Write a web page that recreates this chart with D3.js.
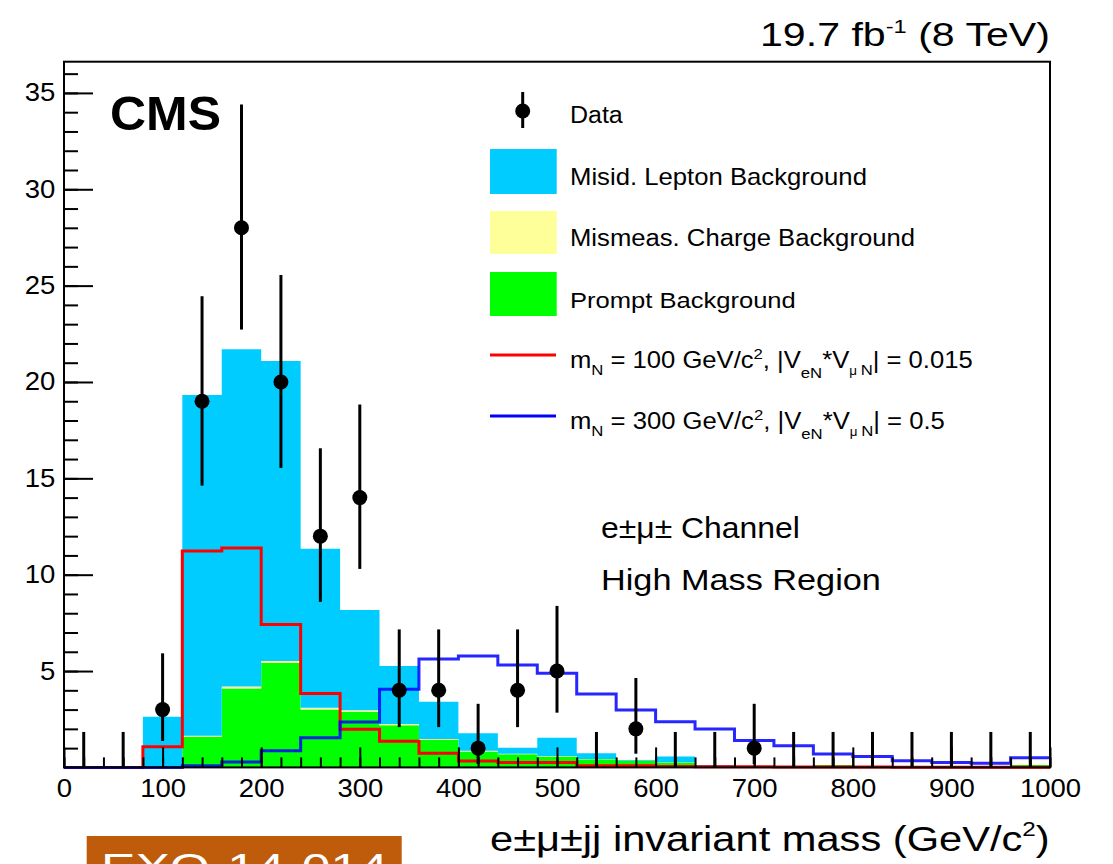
<!DOCTYPE html>
<html><head><meta charset="utf-8">
<script src="https://cdn.jsdelivr.net/npm/d3@7"></script>
<style>
body{margin:0;background:#fff}
svg{display:block}
text{font-family:"Liberation Sans",Arimo,Arial,Helvetica,sans-serif;fill:#000}
</style>
</head><body>
<svg id="c" width="1113" height="864"></svg>
<script>
// ---- data (bins of 40 GeV from 0 to 1000) ----
const binLow     = [0,40,80,120,160,200,240,280,320,360,400,440,480,520,560,600,640,680,720,760,800,840,880,920,960];
const binCenter  = [20,60,100,140,180,220,260,300,340,380,420,460,500,540,580,620,660,700,740,780,820,860,900,940,980];
const dataCounts = [0,0,3,19,28,20,12,14,4,4,1,4,5,0,2,0,0,1,0,0,0,0,0,0,0];
const dataErrLow = [0,0,1.37,14.62,22.72,15.54,8.59,10.30,2.09,2.09,0.17,2.09,2.84,0,0.71,0,0,0.17,0,0,0,0,0,0,0];
const dataErrHigh= [1.84,1.84,5.92,24.45,34.40,25.55,16.56,18.83,7.16,7.16,3.30,7.16,8.38,1.84,4.64,1.84,1.84,3.30,1.84,1.84,1.84,1.84,1.84,1.84,1.84];
const promptBkg  = [0,0,0,1.59,4.10,5.42,3.01,2.89,2.19,1.42,0.82,0.68,0.56,0.42,0.33,0.25,0.05,0.05,0.05,0.12,0.05,0.05,0.05,0.05,0.12];
const mismeasBkg = [0,0,0,0.05,0.10,0.10,0.08,0.08,0.06,0.05,0.04,0.03,0.03,0.02,0.02,0.02,0.02,0,0,0,0,0,0,0,0];
const misidBkg   = [0,0,2.63,17.69,17.50,15.57,8.26,5.20,3.01,1.94,0.91,0.31,0.95,0.29,0.03,0.29,0.05,0.02,0.02,0.01,0.01,0.01,0.01,0.01,0.01];
const signal100  = [0,0,1.07,11.23,11.39,7.42,3.84,1.98,1.36,0.73,0.33,0.26,0.26,0.09,0.08,0.05,0.03,0.03,0.02,0.02,0.02,0.01,0.01,0.01,0.01];
const signal300  = [0,0,0,0.08,0.28,0.87,1.54,2.36,4.05,5.63,5.78,5.31,4.88,3.81,2.98,2.37,1.99,1.40,1.12,0.70,0.57,0.35,0.25,0.21,0.50];
const xMax = 1000;
const xTicksMajor = [0,100,200,300,400,500,600,700,800,900,1000];
const yTicksMajor = [5,10,15,20,25,30,35];
const legendLabels = ["Data","Misid. Lepton Background","Mismeas. Charge Background","Prompt Background"];

const svg = d3.select("#c");
const L=64, R=1050, T=61.7, B=767.4;
const x = d3.scaleLinear().domain([0,xMax]).range([L,R]);
const y = d3.scaleLinear().domain([0,36.62]).range([B,T]);

function fitText(sel, x0, x1, base){
  const w = sel.node().getBBox().width;
  const sx = (x1-x0)/w;
  sel.attr("x",0).attr("y",0).attr("text-anchor","start")
     .attr("transform",`translate(${x0},${base}) scale(${sx},1)`);
}

// ---- stacked background ----
const rows = binLow.map((b,i)=>({lo:b, prompt:promptBkg[i], mismeas:mismeasBkg[i], misid:misidBkg[i]}));
const stack = d3.stack().keys(["prompt","mismeas","misid"])(rows);
const fills = {prompt:"#00ff00", mismeas:"#ffff99", misid:"#00ccff"};
const area = d3.area().curve(d3.curveStepAfter)
  .x(d=>x(d.x)).y0(d=>y(d.y0)).y1(d=>y(d.y1));
stack.forEach(layer=>{
  const pts = layer.map((d,i)=>({x:binLow[i], y0:d[0], y1:d[1]}));
  pts.push({x:xMax, y0:pts[pts.length-1].y0, y1:pts[pts.length-1].y1});
  svg.append("path").attr("d",area(pts)).attr("fill",fills[layer.key]).attr("stroke","none");
});

// ---- signal lines ----
const line = d3.line().curve(d3.curveStepAfter).x(d=>x(d.x)).y(d=>y(d.v));
function stepPts(arr){ const p = arr.map((v,i)=>({x:binLow[i], v})); p.push({x:xMax, v:arr[arr.length-1]}); return p; }
svg.append("path").attr("d",line(stepPts(signal100))).attr("fill","none").attr("stroke","#ff0000").attr("stroke-width",3);
svg.append("path").attr("d",line(stepPts(signal300))).attr("fill","none").attr("stroke","#0000ff").attr("stroke-width",3).attr("stroke-opacity",0.85);

// ---- axes ticks ----
const gx = svg.append("g").attr("transform",`translate(0,${B})`);
gx.call(d3.axisBottom(x).tickValues(d3.range(0,xMax+1,20)).tickSize(-10).tickFormat(""));
const gxM = svg.append("g").attr("transform",`translate(0,${B})`);
gxM.call(d3.axisBottom(x).tickValues(xTicksMajor).tickSize(-20).tickPadding(12).tickFormat(d3.format("d")));
const gy = svg.append("g").attr("transform",`translate(${L},0)`);
gy.call(d3.axisLeft(y).tickValues(d3.range(1,37,1)).tickSize(-14).tickFormat(""));
const gyM = svg.append("g").attr("transform",`translate(${L},0)`);
gyM.call(d3.axisLeft(y).tickValues(yTicksMajor).tickSize(-29).tickPadding(8).tickFormat(d3.format("d")));
[gx,gxM,gy,gyM].forEach(g=>{
  g.select(".domain").remove();
  g.selectAll(".tick line").attr("stroke","#000").attr("stroke-width",2);
  g.selectAll("text").attr("font-size",25).attr("font-family",null).attr("fill","#000");
});
gxM.selectAll("text").attr("transform","scale(1.1,1)");
gyM.selectAll("text").attr("transform","scale(1.1,1)");

// ---- data points ----
const dg = svg.append("g");
binCenter.forEach((c,i)=>{
  dg.append("line").attr("x1",x(c)).attr("x2",x(c)).attr("y1",y(dataErrLow[i])).attr("y2",y(dataErrHigh[i]))
    .attr("stroke","#000").attr("stroke-width",3);
  if(dataCounts[i]>0) dg.append("circle").attr("cx",x(c)).attr("cy",y(dataCounts[i])).attr("r",7.5).attr("fill","#000");
});

// ---- frame ----
svg.append("rect").attr("x",L).attr("y",T).attr("width",R-L).attr("height",B-T)
  .attr("fill","none").attr("stroke","#000").attr("stroke-width",2);

// ---- legend ----
const lg = svg.append("g");
lg.append("line").attr("x1",522.7).attr("x2",522.7).attr("y1",92).attr("y2",128).attr("stroke","#000").attr("stroke-width",3);
lg.append("circle").attr("cx",522.7).attr("cy",111).attr("r",7.5).attr("fill","#000");
const boxes = [["#00ccff",149,194],["#ffff99",211,254],["#00ff00",272,316]];
boxes.forEach(b=>lg.append("rect").attr("x",490).attr("y",b[1]).attr("width",66.7).attr("height",b[2]-b[1]).attr("fill",b[0]));
lg.append("line").attr("x1",490).attr("x2",556).attr("y1",355).attr("y2",355).attr("stroke","#ff0000").attr("stroke-width",3);
lg.append("line").attr("x1",490).attr("x2",556).attr("y1",416).attr("y2",416).attr("stroke","#0000ff").attr("stroke-width",3);

const legBase = [123,185,246,308];
const legRight = [623,867,915,796];
legendLabels.forEach((t,i)=>{
  const tx = lg.append("text").attr("font-size",23).text(t);
  fitText(tx,570,legRight[i],legBase[i]);
});
function sigLabel(mass, coup, base, right){
  const t = lg.append("text").attr("font-size",23);
  t.append("tspan").text("m");
  t.append("tspan").attr("font-size",15).attr("dy",7).text("N");
  t.append("tspan").attr("dy",-7).text(" = "+mass+" GeV/c");
  t.append("tspan").attr("font-size",15).attr("dy",-9).text("2");
  t.append("tspan").attr("dy",9).text(", |V");
  t.append("tspan").attr("font-size",15).attr("dy",10).text("eN");
  t.append("tspan").attr("dy",-10).text("*V");
  t.append("tspan").attr("font-size",12).attr("dy",7).text("μ ");
  t.append("tspan").attr("font-size",15).text("N");
  t.append("tspan").attr("dy",-7).text("| = "+coup);
  fitText(t,570,right,base);
}
sigLabel("100","0.015",368,973);
sigLabel("300","0.5",429,945);

// ---- annotations ----
const cms = svg.append("text").attr("font-size",48).attr("font-weight","bold").text("CMS");
fitText(cms,110,221,130);
const lumi = svg.append("text").attr("font-size",33);
lumi.append("tspan").text("19.7 fb");
lumi.append("tspan").attr("font-size",19).attr("dy",-13).text("-1");
lumi.append("tspan").attr("dy",13).text(" (8 TeV)");
fitText(lumi,760,1050,46);
const ch1 = svg.append("text").attr("font-size",30).text("e±μ± Channel");
fitText(ch1,601,800,538);
const ch2 = svg.append("text").attr("font-size",30).text("High Mass Region");
fitText(ch2,601,881,590);
const xt = svg.append("text").attr("font-size",36);
xt.append("tspan").text("e±μ±jj invariant mass (GeV/c");
xt.append("tspan").attr("font-size",21).attr("dy",-15).text("2");
xt.append("tspan").attr("dy",15).text(")");
fitText(xt,490,1050,851);

// ---- tag box at bottom (cut by the picture edge, as in the reference) ----
svg.append("rect").attr("x",86.7).attr("y",836).attr("width",315).attr("height",40).attr("fill","#bf5c0b");
const tag = svg.append("text").attr("font-size",38).style("fill","#fff").text("EXO-14-014");
fitText(tag,101,388,881);
</script>
</body></html>
